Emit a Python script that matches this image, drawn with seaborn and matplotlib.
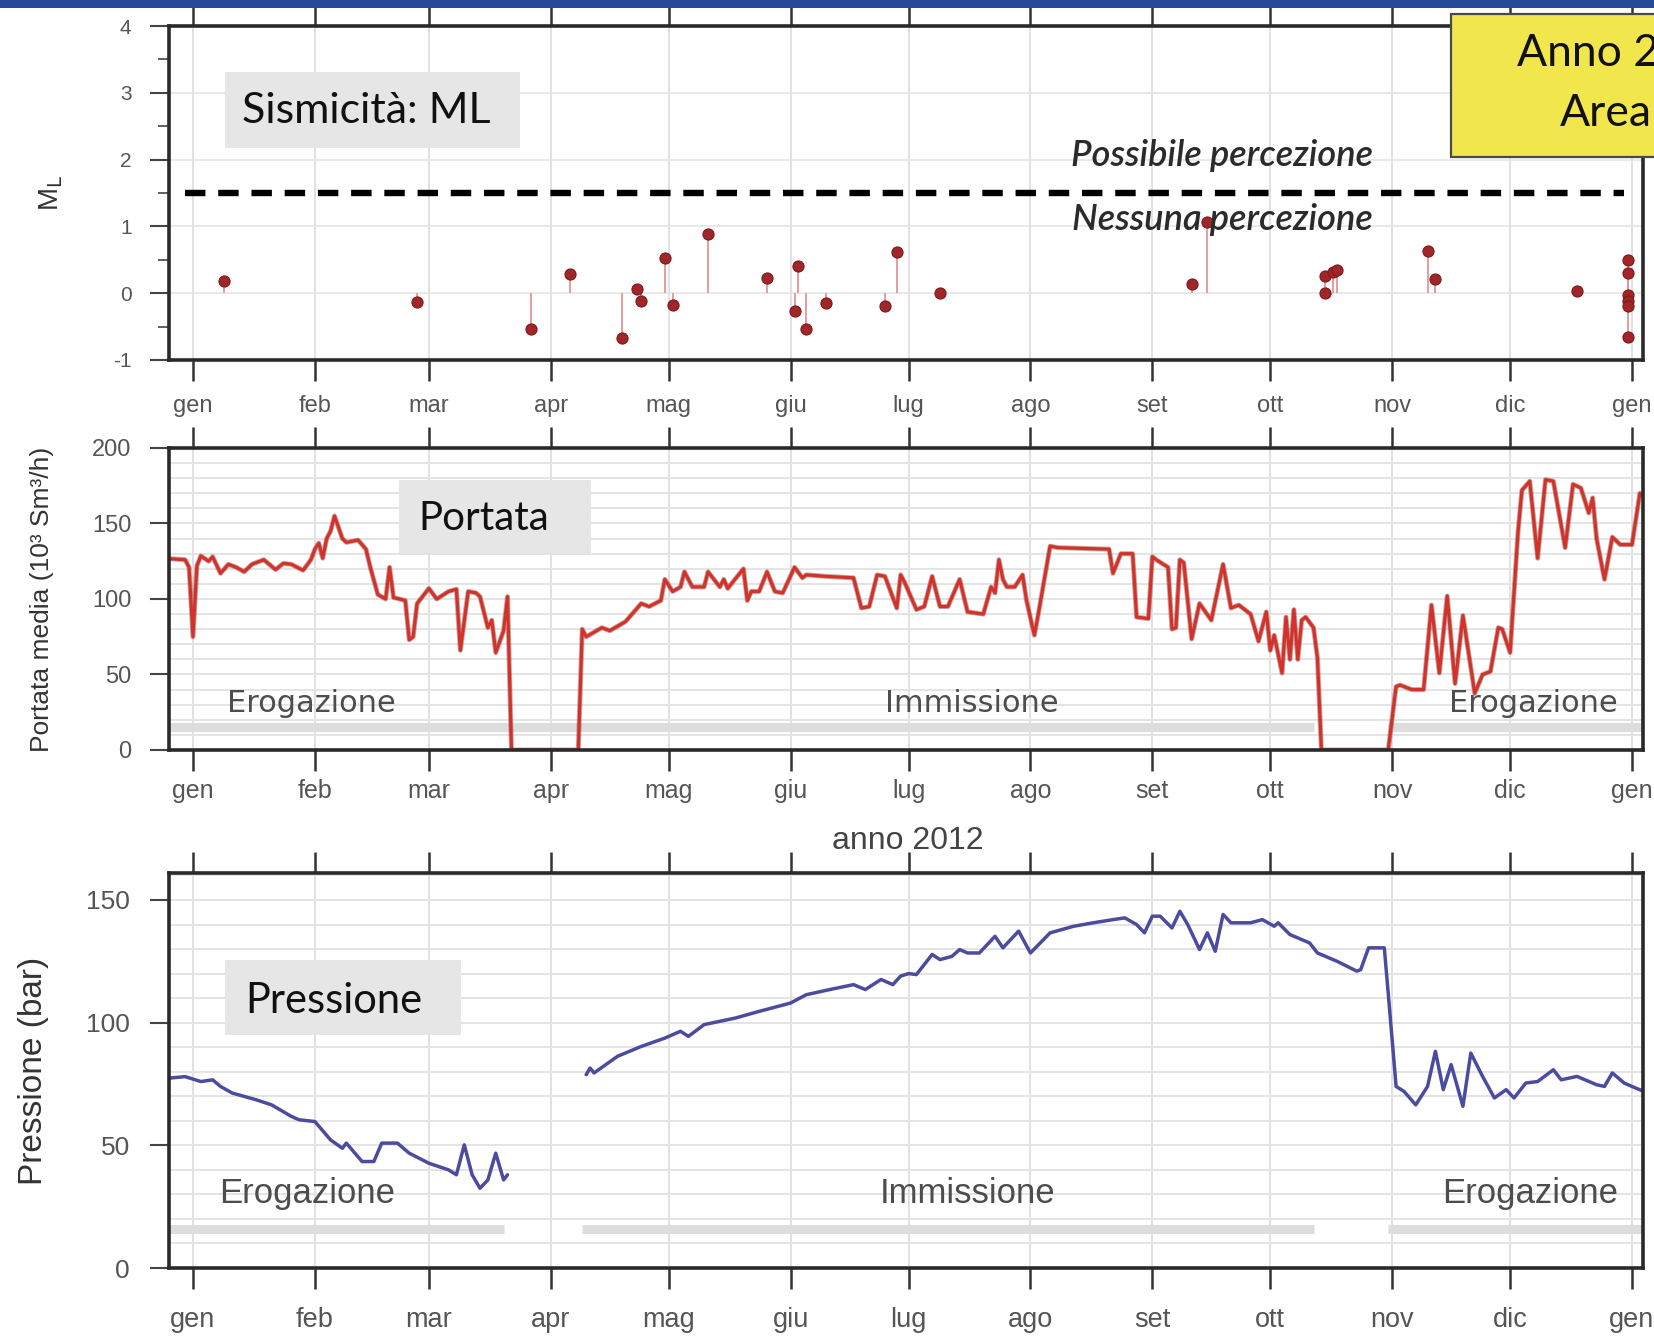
import numpy as np
import pandas as pd
import matplotlib
matplotlib.use("Agg")
import matplotlib.pyplot as plt
import matplotlib.patheffects as pe
from matplotlib.patches import Rectangle
from matplotlib.ticker import MultipleLocator, FixedLocator
import seaborn as sns

# ---------------------------------------------------------------- data
YEAR_START = pd.Timestamp("2012-01-01")

month_labels = ["gen", "feb", "mar", "apr", "mag", "giu", "lug",
                "ago", "set", "ott", "nov", "dic", "gen"]

# Seismic events: day counted from 1 Jan 2012, local magnitude ML
eq_day = [8, 57, 86, 96, 109, 113, 114, 120, 122, 131,
          146, 153, 154, 156, 161, 176, 179, 190, 254, 258,
          288, 288, 290, 291, 314, 316, 352, 365, 365, 365,
          365, 365, 365]
eq_ml = [0.19, -0.13, -0.53, 0.28, -0.67, 0.06, -0.11, 0.52, -0.17, 0.89,
         0.23, -0.27, 0.41, -0.53, -0.15, -0.19, 0.61, 0.0, 0.14, 1.06,
         0.26, 0.0, 0.32, 0.35, 0.63, 0.22, 0.03, 0.5, 0.3, -0.02,
         -0.11, -0.19, -0.65]
ml_ticks = [-1, 0, 1, 2, 3, 4]
ml_threshold = 1.5
threshold_span = [-2, 364]

# Mean daily flow rate (10^3 Sm3/h)
portata_day = [
    -6, -2, -1, 0, 1, 2, 4, 5, 7, 9,
    11, 13, 15, 18, 21, 23, 25, 28, 30, 31,
    32, 33, 34, 35, 36, 38, 39, 42, 44, 45,
    47, 49, 50, 51, 54, 55, 56, 57, 60, 62,
    65, 67, 68, 70, 72, 73, 75, 76, 77, 79,
    80, 81, 98, 99, 100, 102, 104, 106, 110, 111,
    114, 116, 119, 120, 122, 124, 125, 127, 130, 131,
    134, 135, 136, 140, 141, 142, 144, 146, 148, 150,
    153, 155, 156, 161, 168, 170, 172, 174, 176, 179,
    180, 181, 184, 186, 188, 190, 192, 195, 197, 201,
    203, 204, 205, 206, 207, 209, 211, 212, 214, 215,
    218, 220, 233, 234, 236, 239, 240, 243, 244, 245,
    248, 249, 250, 251, 252, 254, 256, 259, 262, 264,
    266, 269, 271, 273, 274, 275, 277, 278, 279, 280,
    281, 282, 283, 285, 286, 287, 304, 306, 307, 310,
    313, 315, 317, 319, 321, 323, 326, 328, 330, 332,
    333, 335, 337, 338, 340, 342, 344, 346, 349, 351,
    353, 355, 356, 357, 359, 361, 363, 366, 368, 369,
]
portata_val = [
    126.7, 126, 121, 75, 122, 128.5, 125, 128, 117, 123,
    121, 118, 123, 126, 119.5, 123.6, 123, 119, 126, 133,
    137, 127, 140, 145, 155, 140, 137.5, 139, 133, 122,
    103, 100, 121, 101, 99, 73, 75, 97, 107, 100,
    105, 106.5, 66, 105, 104, 101.6, 81, 86, 64.5, 79,
    101.6, 0, 0, 80, 75, 78, 81, 79, 85, 88,
    97, 95, 99, 113, 105, 108, 118, 108, 108, 118,
    108, 113, 107, 120, 99, 105, 105, 118, 105, 104,
    121, 114, 116, 115, 114, 94, 95, 116, 115, 94,
    116, 111, 93, 95, 115, 95, 95, 113, 91.5, 90,
    108, 104, 126, 113, 108, 108, 116, 99, 76, 90,
    135, 134, 133, 117, 130, 130, 88, 87, 128, 126,
    121, 80, 81, 126, 124, 73.5, 97, 86, 123, 94,
    96, 90, 72, 91.5, 66, 76, 51, 88, 60, 93,
    60, 86, 88, 81, 61, 0, 0, 42, 43, 40,
    40, 96, 51, 102, 44, 89, 37.5, 50, 52, 81,
    80, 64.5, 144, 172, 178, 127, 179, 178, 134, 176,
    173.5, 157, 167, 140, 113, 141, 136, 136, 170, 168,
]

# Reservoir pressure (bar), two recorded stretches
pressione_day_a = [-6, -2, 2, 5, 7, 10, 16, 20, 25, 27,
                   31, 35, 38, 39, 43, 46, 48, 52, 55, 60,
                   65, 67, 69, 71, 73, 75, 77, 79, 80]
pressione_val_a = [77.4, 78, 76, 76.7, 74, 71.3, 68.6, 66.5, 61.8, 60.4,
                   59.7, 52.2, 48.8, 50.9, 43.4, 43.4, 50.9, 50.9, 46.8, 42.7,
                   40, 38, 50.2, 38, 32.5, 35.9, 46.8, 35.9, 38]
pressione_day_b = [100, 101, 102, 108, 114, 120, 124, 126, 130, 138,
                   144, 152, 156, 162, 168, 171, 175, 178, 180, 182,
                   184, 188, 190, 193, 195, 197, 200, 204, 206, 210,
                   213, 218, 224, 229, 234, 237, 240, 242, 244, 246,
                   249, 251, 253, 256, 258, 260, 262, 264, 269, 272,
                   275, 276, 279, 284, 286, 291, 296, 297, 299, 303,
                   304, 306, 308, 311, 314, 316, 318, 320, 323, 325,
                   328, 331, 334, 336, 339, 342, 346, 348, 352, 357,
                   359, 361, 364, 367, 369]
pressione_val_b = [78.8, 81.5, 79.5, 86.3, 90.3, 93.7, 96.5, 94.4, 99.2, 101.9,
                   104.6, 108, 111.4, 113.5, 115.5, 113.5, 117.6, 115.5, 119, 120,
                   119.6, 127.8, 125.7, 127, 129.8, 128.4, 128.4, 135.2, 130.5, 137.3,
                   128.4, 136.6, 139.3, 140.7, 142, 142.7, 140, 136.6, 143.4, 143.4,
                   138.6, 145.4, 140, 129.8, 136.6, 129.1, 144.1, 140.7, 140.7, 142,
                   139.3, 140.7, 135.9, 132.5, 128.4, 125, 121, 121.6, 130.5, 130.5,
                   112, 74, 72, 66.5, 74, 88.3, 72.7, 82.9, 65.9, 87.6,
                   78.1, 69.3, 72.7, 69.3, 75.4, 76, 80.8, 76.7, 78.1, 74.7,
                   74, 79.5, 75.4, 73.3, 72]

# Operating phases (start day, end day) and their labels
phase_names = ["Erogazione", "Immissione", "Erogazione"]
phase_label_day = [30, 198, 341]
portata_phases = [(-7, 285), (304, 370)]
pressione_phases = [(-7, 79), (99, 285), (304, 370)]


def to_date(days):
    return YEAR_START + pd.to_timedelta(np.asarray(days, dtype=float), unit="D")


# ---------------------------------------------------------------- style
sns.set_theme(style="white")
plt.rcParams["font.family"] = ["Liberation Sans", "DejaVu Sans"]
plt.rcParams["axes.facecolor"] = "white"
plt.rcParams["axes.unicode_minus"] = False

W, H = 1654, 1337
fig = plt.figure(figsize=(W / 100, H / 100), dpi=100)
fig.patch.set_facecolor("white")


def fx(px):
    return px / W


def fy(py):
    return 1 - py / H


L, R = 169, 1643
ax1 = fig.add_axes([fx(L), fy(360), (R - L) / W, (360 - 26) / H])
ax2 = fig.add_axes([fx(L), fy(750), (R - L) / W, (750 - 448) / H])
ax3 = fig.add_axes([fx(L), fy(1268), (R - L) / W, (1268 - 873) / H])

xmin = YEAR_START + pd.Timedelta(days=-6.1)
xmax = YEAR_START + pd.Timedelta(days=368.8)
month_ticks = pd.date_range("2012-01-01", "2013-01-01", freq="MS")

SPINE = "#2a2a2a"
TICKTXT = "#555555"
LATO = ["Lato", "DejaVu Sans"]


def style_axes(ax, xsize, xpad, ysize, ypad):
    ax.set_xlim(xmin, xmax)
    ax.set_xticks(month_ticks)
    ax.set_xticklabels(month_labels, fontsize=xsize, color=TICKTXT)
    ax.tick_params(axis="x", which="major", top=True, bottom=True,
                   labeltop=False, direction="out", length=15, width=1.8,
                   color="#333333", pad=xpad)
    ax.tick_params(axis="y", which="major", left=True, right=False,
                   direction="out", length=14, width=1.5, color="#444444",
                   pad=ypad, labelsize=ysize, labelcolor=TICKTXT)
    ax.grid(axis="x", which="major", color="#d9d9d9", lw=1.1)
    ax.set_axisbelow(True)
    for s in ax.spines.values():
        s.set_visible(True)
        s.set_color(SPINE)
        s.set_linewidth(2.6)
        s.set_zorder(4)
    ax.set_xlabel("")


def title_box(ax, x0, y0, x1, y1, text, size, cx, cy):
    ax.add_patch(Rectangle((fx(x0), fy(y1)), fx(x1) - fx(x0), fy(y0) - fy(y1),
                           transform=fig.transFigure, facecolor="#e6e6e6",
                           edgecolor="none", zorder=1.5))
    ax.text(fx(cx), fy(cy), text, transform=fig.transFigure, ha="center",
            va="center", fontsize=size, color="#111111", family=LATO, zorder=5)


# ---------------------------------------------------------------- seismicity
eq_dates = to_date(eq_day)
ax1.vlines(eq_dates, 0, eq_ml, color="#e29595", lw=1.3, zorder=2)
sns.scatterplot(x=eq_dates, y=eq_ml, ax=ax1, color="#a1262a", s=64,
                edgecolor="#7a1b1e", linewidth=0.8, zorder=3, legend=False)
ax1.hlines(ml_threshold, to_date(threshold_span[0]), to_date(threshold_span[1]),
           colors="black", lw=4.6, linestyles=(0, (3.2, 2.0)), zorder=3)
ax1.set_ylim(ml_ticks[0], ml_ticks[-1])
ax1.yaxis.set_major_locator(FixedLocator(ml_ticks))
ax1.yaxis.set_minor_locator(MultipleLocator(0.5))
ax1.tick_params(axis="y", which="minor", left=True, direction="out",
                length=8, width=1.2, color="#444444")
style_axes(ax1, 17, 10, 15, 13)
ax1.grid(axis="y", which="major", color="#e3e3e3", lw=1.1)
ax1.set_ylabel(r"M$_\mathrm{L}$", fontsize=20, color="#333333", va="center")
ax1.yaxis.set_label_coords(-0.08, 0.5)
title_box(ax1, 225, 72, 520, 148, "Sismicità: ML", 31, 366, 111)
for txt, ypix in [("Possibile percezione", 155), ("Nessuna percezione", 219)]:
    ax1.text(fx(1222), fy(ypix), txt, transform=fig.transFigure,
             ha="center", va="center", fontsize=26, style="italic",
             weight="semibold", color="#2b2b2b", family=LATO, zorder=5)

# ---------------------------------------------------------------- flow rate
portata_dates = to_date(portata_day)
sns.lineplot(x=portata_dates, y=portata_val, ax=ax2, color="#d2322a", lw=2.3,
             zorder=3, path_effects=[pe.Stroke(linewidth=3.6,
                                               foreground="#8a3a33", alpha=0.45),
                                     pe.Normal()])
for a, b in portata_phases:
    ax2.hlines(15, to_date(a), to_date(b), colors="#dddddd", lw=6.5, zorder=1)
ax2.set_ylim(0, 200)
ax2.yaxis.set_major_locator(MultipleLocator(50))
ax2.yaxis.set_minor_locator(MultipleLocator(10))
ax2.tick_params(axis="y", which="minor", length=0)
style_axes(ax2, 18, 6, 17, 13)
ax2.grid(axis="y", which="both", color="#e4e4e4", lw=1.4)
ax2.set_ylabel("Portata media (10³ Sm³/h)", fontsize=19, color="#333333",
               va="center")
ax2.yaxis.set_label_coords(-0.086, 0.5)
title_box(ax2, 399, 480, 591, 553, "Portata", 29, 484, 518)
for name, d in zip(phase_names, phase_label_day):
    ax2.text(to_date(d), 31, name, ha="center", va="center", fontsize=22,
             color="#4d4d4d", family=["DejaVu Sans"], zorder=5)

# ---------------------------------------------------------------- pressure
pres_df = pd.DataFrame({
    "data": np.concatenate([to_date(pressione_day_a), to_date(pressione_day_b)]),
    "pressione": pressione_val_a + pressione_val_b,
    "tratto": ["a"] * len(pressione_day_a) + ["b"] * len(pressione_day_b),
})
sns.lineplot(data=pres_df, x="data", y="pressione", units="tratto",
             estimator=None, ax=ax3, color="#4b4c9e", lw=2.5, zorder=3)
for a, b in pressione_phases:
    ax3.hlines(16, to_date(a), to_date(b), colors="#dddddd", lw=6.5, zorder=1)
ax3.set_ylim(0, 161)
ax3.yaxis.set_major_locator(MultipleLocator(50))
ax3.yaxis.set_minor_locator(MultipleLocator(10))
ax3.tick_params(axis="y", which="minor", length=0)
style_axes(ax3, 19.5, 13, 19, 14)
ax3.grid(axis="y", which="both", color="#e4e4e4", lw=1.4)
ax3.set_ylabel("Pressione (bar)", fontsize=24, color="#333333", va="center")
ax3.yaxis.set_label_coords(-0.092, 0.5)
title_box(ax3, 225, 960, 461, 1035, "Pressione", 30, 334, 1001)
for name, d in zip(phase_names, phase_label_day):
    ax3.text(to_date(d - 1), 30.5, name, ha="center", va="center",
             fontsize=25, color="#4d4d4d", zorder=5)
fig.text(fx(908), fy(841), "anno 2012", ha="center", va="center",
         fontsize=23, color="#444444")

# ---------------------------------------------------------------- slide decorations
fig.add_artist(Rectangle((0, fy(8)), 1, fy(0) - fy(8), transform=fig.transFigure,
                         facecolor="#274a98", edgecolor="none", zorder=6))
fig.add_artist(Rectangle((fx(1451), fy(157)), fx(1680) - fx(1451), fy(14) - fy(157),
                         transform=fig.transFigure, facecolor="#f1e64c",
                         edgecolor="#4a4a4a", lw=1.6, zorder=6))
fig.text(fx(1517), fy(54), "Anno 2012", ha="left", va="center", fontsize=32,
         color="#111111", family=LATO, zorder=7)
fig.text(fx(1560), fy(114), "Area", ha="left", va="center", fontsize=32,
         color="#111111", family=LATO, zorder=7)

fig.savefig("out.png", dpi=100, facecolor="white")
